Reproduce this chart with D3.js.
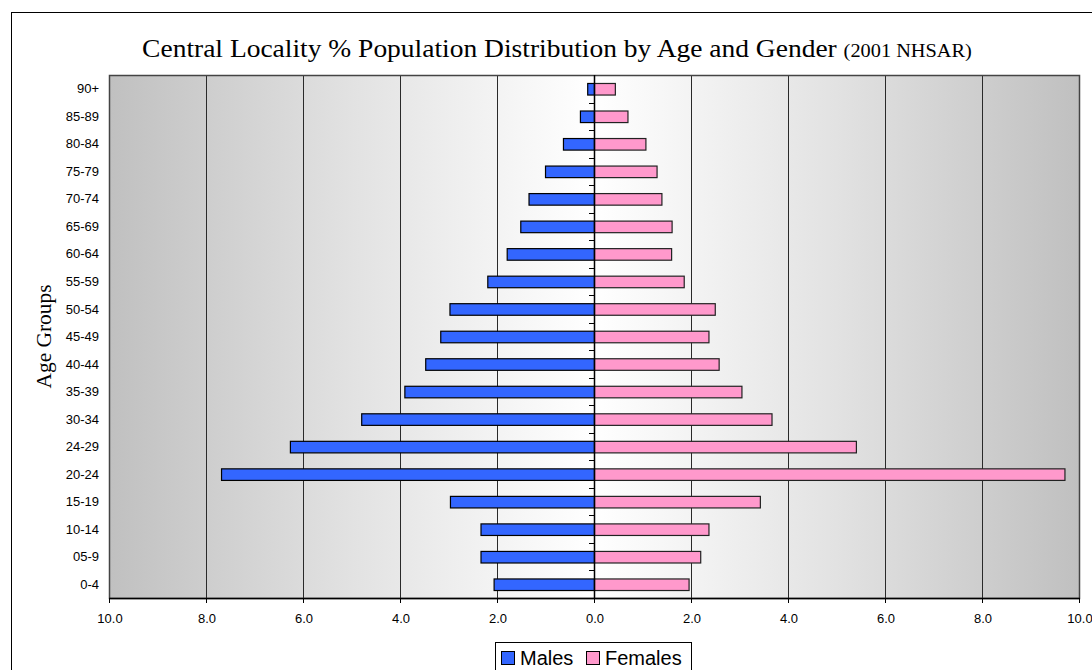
<!DOCTYPE html>
<html>
<head>
<meta charset="utf-8">
<script src="https://cdn.jsdelivr.net/npm/d3@7.9.0/dist/d3.min.js"></script>
<style>
  body { margin: 0; background: #fff; }
  svg { display: block; }
  .tick-label { font-family: Arial, "Liberation Sans", sans-serif; font-size: 13px; fill: #000; }
</style>
</head>
<body>
<svg id="chart" width="1092" height="670"></svg>
<script>
// age groups, top to bottom
const ageGroups = ['90+', '85-89', '80-84', '75-79', '70-74', '65-69', '60-64', '55-59', '50-54',
  '45-49', '40-44', '35-39', '30-34', '24-29', '20-24', '15-19', '10-14', '05-9', '0-4'];
const males = [0.14, 0.29, 0.64, 1.01, 1.35, 1.52, 1.80, 2.20, 2.98,
  3.17, 3.48, 3.91, 4.80, 6.27, 7.69, 2.97, 2.34, 2.34, 2.07];
const females = [0.43, 0.69, 1.06, 1.29, 1.39, 1.60, 1.59, 1.85, 2.49,
  2.36, 2.57, 3.04, 3.66, 5.40, 9.70, 3.42, 2.36, 2.19, 1.95];
const xTicks = [-10, -8, -6, -4, -2, 0, 2, 4, 6, 8, 10];
const seriesNames = ['Males', 'Females'];
const seriesColors = ['#3366ff', '#ff99cc'];

const svg = d3.select('#chart');
const plot = { left: 109, right: 1079, top: 75, bottom: 598 };

const x = d3.scaleLinear().domain([-10, 10]).range([plot.left, plot.right]);
const y = d3.scaleBand().domain(ageGroups).range([plot.top, plot.bottom])
  .paddingInner(0.58).paddingOuter(0.29);
const step = y.step();

// outer chart frame
svg.append('rect')
  .attr('x', 11.5).attr('y', 12.5)
  .attr('width', 1100).attr('height', 700)
  .attr('fill', '#fff').attr('stroke', '#000').attr('stroke-width', 1);

// plot background gradient (grey edges, white centre)
const defs = svg.append('defs');
const grad = defs.append('linearGradient').attr('id', 'bg').attr('x1', '0%').attr('x2', '100%');
grad.append('stop').attr('offset', '0%').attr('stop-color', '#c0c0c0');
grad.append('stop').attr('offset', '25%').attr('stop-color', '#e2e2e2');
grad.append('stop').attr('offset', '50%').attr('stop-color', '#ffffff');
grad.append('stop').attr('offset', '75%').attr('stop-color', '#e2e2e2');
grad.append('stop').attr('offset', '100%').attr('stop-color', '#c0c0c0');

svg.append('rect')
  .attr('x', plot.left).attr('y', plot.top)
  .attr('width', plot.right - plot.left).attr('height', plot.bottom - plot.top)
  .attr('fill', 'url(#bg)');

// vertical gridlines
svg.append('g')
  .selectAll('line')
  .data(xTicks.filter(d => d !== 0 && Math.abs(d) !== 10))
  .join('line')
  .attr('x1', d => x(d) + 0.5).attr('x2', d => x(d) + 0.5)
  .attr('y1', plot.top).attr('y2', plot.bottom)
  .attr('stroke', '#2a2a2a').attr('stroke-width', 1);

// plot border
svg.append('rect')
  .attr('x', plot.left + 0.5).attr('y', plot.top + 0.5)
  .attr('width', plot.right - plot.left).attr('height', plot.bottom - plot.top)
  .attr('fill', 'none').attr('stroke', '#444').attr('stroke-width', 1.5);

// bars
const rows = ageGroups.map((g, i) => ({ group: g, male: males[i], female: females[i] }));
const bars = svg.append('g');
bars.selectAll('rect.m')
  .data(rows)
  .join('rect')
  .attr('class', 'm')
  .attr('x', d => x(-d.male) + 0.5)
  .attr('y', d => y(d.group) + 0.5)
  .attr('width', d => x(0) - x(-d.male))
  .attr('height', y.bandwidth())
  .attr('fill', seriesColors[0])
  .attr('stroke', '#000').attr('stroke-width', 1.2);

bars.selectAll('rect.f')
  .data(rows)
  .join('rect')
  .attr('class', 'f')
  .attr('x', x(0) + 0.5)
  .attr('y', d => y(d.group) + 0.5)
  .attr('width', d => x(d.female) - x(0))
  .attr('height', y.bandwidth())
  .attr('fill', seriesColors[1])
  .attr('stroke', '#222').attr('stroke-width', 1.2);

// centre (category) axis with ticks between groups
const cAxis = svg.append('g');
cAxis.append('line')
  .attr('x1', x(0) + 0.5).attr('x2', x(0) + 0.5)
  .attr('y1', plot.top).attr('y2', plot.bottom)
  .attr('stroke', '#000').attr('stroke-width', 1.5);
cAxis.selectAll('line.t')
  .data(d3.range(1, ageGroups.length))
  .join('line')
  .attr('class', 't')
  .attr('x1', x(0) - 5).attr('x2', x(0))
  .attr('y1', k => Math.round(plot.top + k * step) + 0.5)
  .attr('y2', k => Math.round(plot.top + k * step) + 0.5)
  .attr('stroke', '#000').attr('stroke-width', 1);

// category labels on the left
svg.append('g')
  .selectAll('text')
  .data(ageGroups)
  .join('text')
  .attr('class', 'tick-label')
  .attr('x', 99)
  .attr('y', d => y(d) + y.bandwidth() / 2)
  .attr('dy', '0.35em')
  .attr('text-anchor', 'end')
  .text(d => d);

// value axis at the bottom
const xAxis = svg.append('g');
xAxis.append('line')
  .attr('x1', plot.left).attr('x2', plot.right + 1)
  .attr('y1', plot.bottom + 0.5).attr('y2', plot.bottom + 0.5)
  .attr('stroke', '#000').attr('stroke-width', 1.5);
xAxis.selectAll('line.t')
  .data(xTicks)
  .join('line')
  .attr('class', 't')
  .attr('x1', d => x(d) + 0.5).attr('x2', d => x(d) + 0.5)
  .attr('y1', plot.bottom).attr('y2', plot.bottom + 5)
  .attr('stroke', '#000');
xAxis.selectAll('text')
  .data(xTicks)
  .join('text')
  .attr('class', 'tick-label')
  .attr('x', d => x(d) + 1)
  .attr('y', 623)
  .attr('text-anchor', 'middle')
  .text(d => Math.abs(d).toFixed(1));

// title (the original font is slightly wide, so stretch horizontally)
const title = svg.append('text')
  .attr('transform', 'translate(557, 57) scale(1.1, 1)')
  .attr('text-anchor', 'middle')
  .style('font-family', '"Times New Roman", "Liberation Serif", serif')
  .style('fill', '#000');
title.append('tspan').style('font-size', '25px')
  .text('Central Locality % Population Distribution by Age and Gender ');
title.append('tspan').style('font-size', '18.5px').text('(2001 NHSAR)');

// y axis title
svg.append('text')
  .attr('transform', `translate(51, ${(plot.top + plot.bottom) / 2}) rotate(-90) scale(1.07, 1)`)
  .attr('text-anchor', 'middle')
  .style('font-family', '"Times New Roman", "Liberation Serif", serif')
  .style('font-size', '20px')
  .text('Age Groups');

// legend
const legend = svg.append('g');
legend.append('rect')
  .attr('x', 495.5).attr('y', 642.5)
  .attr('width', 196).attr('height', 40)
  .attr('fill', '#fff').attr('stroke', '#000');
const legendX = [501, 586];
seriesNames.forEach((name, i) => {
  legend.append('rect')
    .attr('x', legendX[i] + 0.5).attr('y', 651.5)
    .attr('width', 13).attr('height', 13)
    .attr('fill', seriesColors[i]).attr('stroke', '#000');
  legend.append('text')
    .attr('x', legendX[i] + 19).attr('y', 665)
    .style('font-family', 'Arial, "Liberation Sans", sans-serif')
    .style('font-size', '20px')
    .text(name);
});
</script>
</body>
</html>
